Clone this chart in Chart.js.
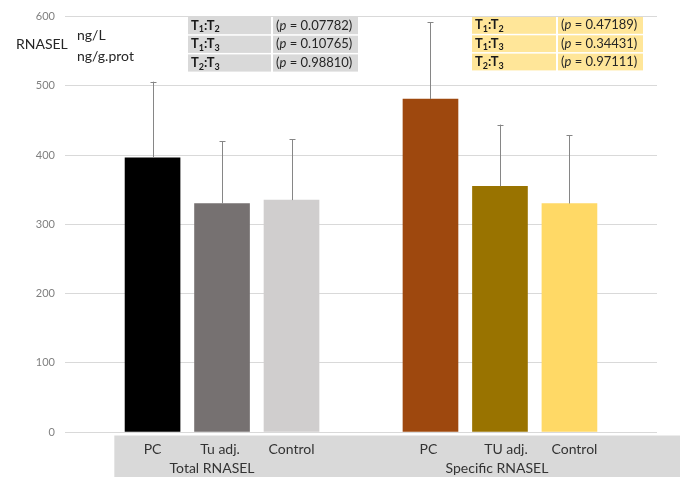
<!DOCTYPE html>
<html>
<head>
<meta charset="utf-8">
<script src="https://cdn.jsdelivr.net/npm/chart.js@4/dist/chart.umd.min.js"></script>
<style>
  html, body { margin: 0; padding: 0; background: #ffffff; }
  #wrap { width: 680px; height: 477px; position: relative; }
</style>
</head>
<body>
<div id="wrap"><canvas id="chart" width="680" height="477"></canvas></div>
<script>
// Two groups of RNASEL measurements, three sample types each
const groups = ['Total RNASEL', 'Specific RNASEL'];
const totalCategories = ['PC', 'Tu adj.', 'Control'];
const specificCategories = ['PC', 'TU adj.', 'Control'];
const totalMeans = [396, 330, 335];
const specificMeans = [481, 355, 330];
const totalSD = [110, 90, 88];
const specificSD = [111, 89, 99];
const totalColors = ['#000000', '#767171', '#d0cece'];
const specificColors = ['#9e480e', '#997300', '#ffd966'];

// Pairwise comparisons: [first, second] group indices, and their p values
const comparisonPairs = [[1, 2], [1, 3], [2, 3]];
const totalP = ['0.07782', '0.10765', '0.98810'];
const specificP = ['0.47189', '0.34431', '0.97111'];

const yMin = 0, yMax = 600, yStep = 100;

const FONT = 'Lato, "Open Sans", sans-serif';

// small horizontal nudges for the axis-band text (px)
const catLabelNudge = [0, -2, 0, -2, 6, 5];
const groupLabelNudge = [-10, -3];

// Bars sit at slot positions; one empty slot separates the groups
const groupCats = [totalCategories, specificCategories];
const groupMeans = [totalMeans, specificMeans];
const groupSD = [totalSD, specificSD];
const groupColors = [totalColors, specificColors];
const points = [], colors = [], sdList = [], labelList = [];
groupCats.forEach((cats, g) => {
  cats.forEach((c, i) => {
    points.push({ x: g * (cats.length + 1) + i, y: groupMeans[g][i] });
    colors.push(groupColors[g][i]);
    sdList.push(groupSD[g][i]);
    labelList.push(c);
  });
});

function drawSubLabel(ctx, x, yMid, a, b) {
  ctx.fillStyle = '#1a1a1a';
  ctx.textBaseline = 'middle';
  ctx.textAlign = 'left';
  const big = 'bold 13px ' + FONT, small = 'bold 9px ' + FONT;
  let cx = x;
  ctx.font = big; ctx.fillText('T', cx, yMid); cx += ctx.measureText('T').width;
  ctx.font = small; ctx.fillText(String(a), cx, yMid + 4); cx += ctx.measureText(String(a)).width;
  ctx.font = big; ctx.fillText(':T', cx, yMid); cx += ctx.measureText(':T').width;
  ctx.font = small; ctx.fillText(String(b), cx, yMid + 4);
}

function drawPText(ctx, x, yMid, p) {
  ctx.fillStyle = '#262626';
  ctx.textBaseline = 'middle';
  ctx.textAlign = 'left';
  const reg = '13px ' + FONT, it = 'italic 13px ' + FONT;
  let cx = x;
  ctx.font = reg; ctx.fillText('(', cx, yMid); cx += ctx.measureText('(').width;
  ctx.font = it; ctx.fillText('p', cx, yMid); cx += ctx.measureText('p').width;
  ctx.font = reg; ctx.fillText(' = ' + p + ')', cx, yMid);
}

function drawTable(ctx, left, top, split, right, rowH, bg, pvals) {
  comparisonPairs.forEach((pair, r) => {
    const y = top + r * rowH;
    ctx.fillStyle = bg;
    ctx.fillRect(left, y, split - left - 1, rowH - 1.5);
    ctx.fillRect(split + 1, y, right - split - 1, rowH - 1.5);
    drawSubLabel(ctx, left + 3, y + rowH / 2 - 1, pair[0], pair[1]);
    drawPText(ctx, split + 4, y + rowH / 2 - 1, pvals[r]);
  });
}

const annotations = {
  id: 'annotations',
  afterDatasetsDraw(chart) {
    const ctx = chart.ctx, xs = chart.scales.x, ys = chart.scales.y;
    ctx.save();
    ctx.strokeStyle = '#868686';
    ctx.lineWidth = 1;
    points.forEach((p, i) => {
      const px = Math.round(xs.getPixelForValue(p.x)) + 0.5;
      const y0 = ys.getPixelForValue(p.y);
      const y1 = ys.getPixelForValue(p.y + sdList[i]);
      ctx.beginPath();
      ctx.moveTo(px, y0); ctx.lineTo(px, y1);
      ctx.moveTo(px - 3, Math.round(y1) + 0.5); ctx.lineTo(px + 3, Math.round(y1) + 0.5);
      ctx.stroke();
    });
    ctx.restore();
  },
  afterDraw(chart) {
    const ctx = chart.ctx, xs = chart.scales.x, area = chart.chartArea;
    ctx.save();
    // category band under the axis
    const bandLeft = xs.getPixelForValue(-0.55);
    ctx.fillStyle = '#d9d9d9';
    ctx.fillRect(bandLeft, area.bottom + 3.5, chart.width - bandLeft, chart.height - area.bottom - 3.5);
    ctx.fillStyle = '#333333';
    ctx.font = '14px ' + FONT;
    ctx.textAlign = 'center';
    ctx.textBaseline = 'middle';
    points.forEach((p, i) => {
      ctx.fillText(labelList[i], xs.getPixelForValue(p.x) + catLabelNudge[i], area.bottom + 17);
    });
    groups.forEach((g, gi) => {
      const n = groupCats[gi].length;
      const mid = gi * (n + 1) + (n - 1) / 2;
      ctx.fillText(g, xs.getPixelForValue(mid) + groupLabelNudge[gi], area.bottom + 36);
    });
    // axis title and units
    ctx.fillStyle = '#262626';
    ctx.textAlign = 'left';
    ctx.font = '14px ' + FONT;
    ctx.fillText('RNASEL', 16, 44);
    ctx.fillText('ng/L', 77, 35);
    ctx.fillText('ng/g.prot', 77, 56);
    // comparison tables
    drawTable(ctx, 188, 17, 272, 358, 18.7, '#d9d9d9', totalP);
    drawTable(ctx, 472, 17, 557, 643, 18.3, '#ffe699', specificP);
    ctx.restore();
  }
};

new Chart(document.getElementById('chart'), {
  type: 'bar',
  data: {
    datasets: [{
      data: points,
      backgroundColor: colors,
      borderWidth: 0,
      barThickness: 55
    }]
  },
  options: {
    responsive: false,
    animation: false,
    devicePixelRatio: 1,
    layout: { padding: { top: 16, right: 23, bottom: 45, left: 0 } },
    plugins: { legend: { display: false }, tooltip: { enabled: false } },
    scales: {
      x: { type: 'linear', min: -1.26, max: 7.26, offset: false, display: false },
      y: {
        min: yMin, max: yMax,
        ticks: { stepSize: yStep, color: '#808080', font: { family: FONT, size: 11 }, padding: 10 },
        grid: { color: '#d9d9d9', drawTicks: false },
        border: { display: false },
        afterFit(scale) { scale.width = 65; }
      }
    }
  },
  plugins: [annotations]
});
</script>
</body>
</html>
